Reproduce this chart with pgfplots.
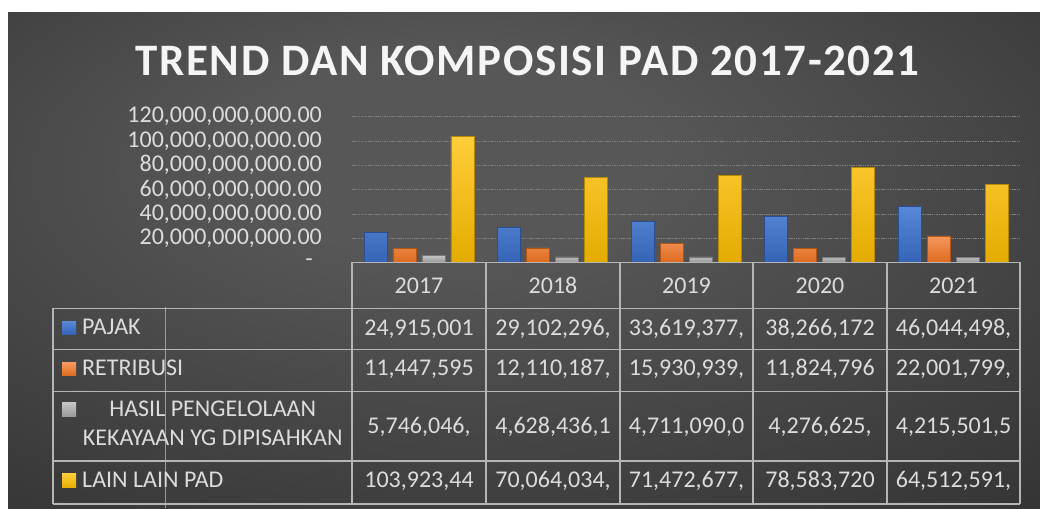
\documentclass[border=0pt]{standalone}
\usepackage{pgfplots}
\pgfplotsset{compat=1.18}
\usepackage{fontspec}
\setmainfont{Carlito}
\newfontfamily\titlefont[LetterSpace=3.6]{Carlito}
\definecolor{bgmid}{HTML}{575757}
\definecolor{bgout}{HTML}{2A2A2A}
\definecolor{bgcorner}{HTML}{242424}
\definecolor{txt}{HTML}{DCDCDC}
\definecolor{tline}{HTML}{B5B5B5}
\definecolor{blueT}{HTML}{5A88D8}
\definecolor{blueB}{HTML}{3563B5}
\definecolor{orangeT}{HTML}{F5985E}
\definecolor{orangeB}{HTML}{DD6A1E}
\definecolor{grayT}{HTML}{C4C4C4}
\definecolor{grayB}{HTML}{979797}
\definecolor{yellowT}{HTML}{FFCD3A}
\definecolor{yellowB}{HTML}{E4AC00}
\pgfdeclareradialshading{bgshade}{\pgfpoint{-4bp}{12bp}}{color(0bp)=(bgmid); color(10bp)=(bgmid); color(50bp)=(bgout); color(75bp)=(bgcorner)}
\pgfplotstableread{
x pajak retribusi hasil lain
0 24.915 11.448 5.746 103.923
1 29.102 12.110 4.628 70.064
2 33.619 15.931 4.711 71.473
3 38.266 11.825 4.277 78.584
4 46.044 22.002 4.216 64.513
}\paddata
\begin{document}
\begin{tikzpicture}[x=1pt,y=1pt]
\fill[white] (0,0) rectangle (1040,508);
\shade[shading=bgshade] (8,0) rectangle (1040,495);
% title
\node[font=\titlefont\bfseries\fontsize{45}{50}\selectfont, text=white!96!black] at (527.5,447) {TREND DAN KOMPOSISI PAD 2017-2021};
\begin{axis}[
  at={(352pt,245.5pt)}, anchor=south west,
  scale only axis, width=668pt, height=145.8pt,
  xmin=-0.5, xmax=4.5, ymin=0, ymax=120,
  axis line style={draw=none},
  major tick length=0pt,
  xtick=\empty,
  ytick={0,20,40,60,80,100,120},
  yticklabels={{-\hspace*{9pt}},{20,000,000,000.00},{40,000,000,000.00},{60,000,000,000.00},{80,000,000,000.00},{100,000,000,000.00},{120,000,000,000.00}},
  yticklabel style={font=\fontsize{24}{24}\selectfont, text=txt, anchor=east, inner sep=0pt, xshift=-30pt},
  ymajorgrids,
  major grid style={draw=white!50!black, line width=0.7pt, dash pattern=on 1.5pt off 0.8pt},
  ybar=6pt, bar width=23pt,
  clip=false,
]
\addplot[draw=blueB!80!black, line width=0.4pt, top color=blueT, bottom color=blueB] table[x=x,y=pajak]{\paddata};
\addplot[draw=orangeB!80!black, line width=0.4pt, top color=orangeT, bottom color=orangeB] table[x=x,y=retribusi]{\paddata};
\addplot[draw=grayB!80!black, line width=0.4pt, top color=grayT, bottom color=grayB] table[x=x,y=hasil]{\paddata};
\addplot[draw=yellowB!80!black, line width=0.4pt, top color=yellowT, bottom color=yellowB] table[x=x,y=lain]{\paddata};
\end{axis}
% data table
\begin{scope}[line width=1.6pt]
\draw[tline] (352,245.5) -- (1020,245.5);
\draw[tline] (53,199.5) -- (1020,199.5);
\draw[tline] (53,158.5) -- (1020,158.5);
\draw[tline] (53,116.5) -- (1020,116.5);
\draw[tline] (53,47) -- (1020,47);
\draw[tline] (53,4) -- (1020,4);
\draw[tline] (53,199.5) -- (53,4);
\foreach \xx in {352,486,620,753,887,1020} {\draw[tline] (\xx,245.5) -- (\xx,4);}
\end{scope}
\draw[white!70!black, line width=0.5pt, opacity=0.8] (165,201) -- (165,0);
% header
\begin{scope}[every node/.style={font=\fontsize{24}{24}\selectfont, text=txt, anchor=base, inner sep=0pt}]
\node at (419,214.3) {2017};
\node at (553,214.3) {2018};
\node at (686.5,214.3) {2019};
\node at (820,214.3) {2020};
\node at (953.5,214.3) {2021};
% row 1
\node at (419,172.5) {24,915,001};
\node at (553,172.5) {29,102,296,};
\node at (686.5,172.5) {33,619,377,};
\node at (820,172.5) {38,266,172};
\node at (953.5,172.5) {46,044,498,};
% row 2
\node at (419,132) {11,447,595};
\node at (553,132) {12,110,187,};
\node at (686.5,132) {15,930,939,};
\node at (820,132) {11,824,796};
\node at (953.5,132) {22,001,799,};
% row 3
\node at (419,74) {5,746,046,};
\node at (553,74) {4,628,436,1};
\node at (686.5,74) {4,711,090,0};
\node at (820,74) {4,276,625,};
\node at (953.5,74) {4,215,501,5};
% row 4
\node at (419,20.5) {103,923,44};
\node at (553,20.5) {70,064,034,};
\node at (686.5,20.5) {71,472,677,};
\node at (820,20.5) {78,583,720};
\node at (953.5,20.5) {64,512,591,};
% legend labels
\node[anchor=base west] at (82,173.7) {PAJAK};
\node[anchor=base west] at (82,132.3) {RETRIBUSI};
\node at (212.7,91.3) {HASIL PENGELOLAAN};
\node at (212.7,62) {KEKAYAAN YG DIPISAHKAN};
\node[anchor=base west] at (82,20.3) {LAIN LAIN PAD};
\end{scope}
% legend keys
\shade[top color=blueT, bottom color=blueB] (62,173.7) rectangle (76,186.3);
\shade[top color=orangeT, bottom color=orangeB] (62,132.3) rectangle (76,145);
\shade[top color=grayT, bottom color=grayB] (62,91) rectangle (76,105);
\shade[top color=yellowT, bottom color=yellowB] (62,20) rectangle (76,34);
\pgfresetboundingbox
\useasboundingbox (0,0) rectangle (1040,508);
\end{tikzpicture}
\end{document}
